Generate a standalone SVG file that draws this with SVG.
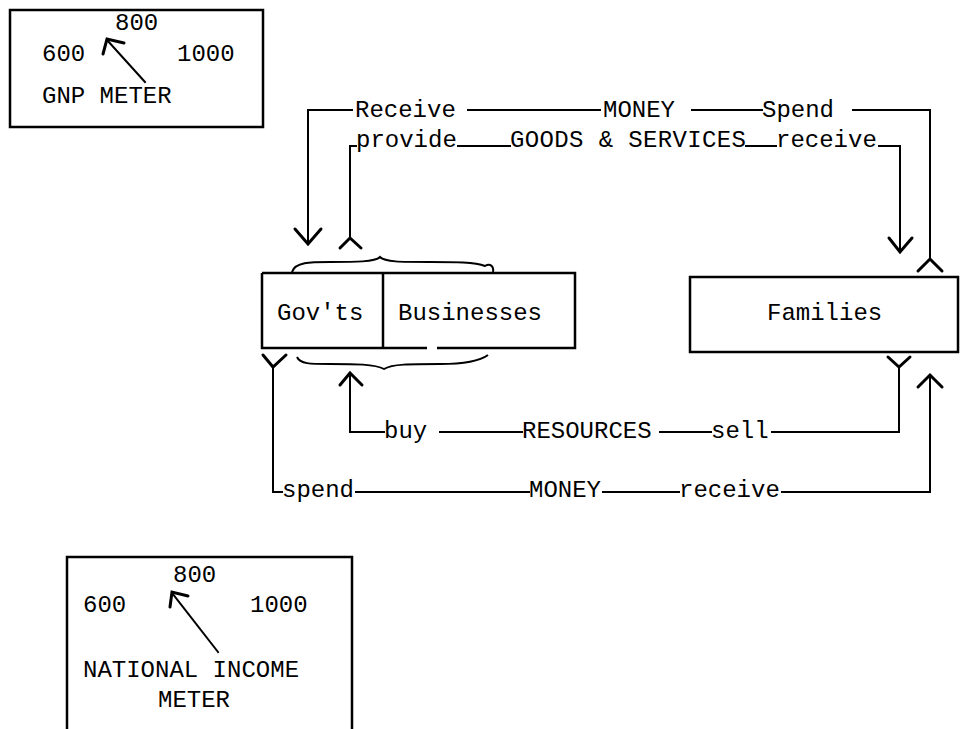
<svg xmlns="http://www.w3.org/2000/svg" width="961" height="729" viewBox="0 0 961 729">
<style>
text{font-family:"Liberation Mono","Courier New",monospace;font-size:24px;fill:#000}
.box{fill:none;stroke:#000;stroke-width:2.5}
.ln{fill:none;stroke:#000;stroke-width:2;stroke-linecap:square}
.ah{fill:none;stroke:#000;stroke-width:3;stroke-linejoin:miter;stroke-linecap:round}
.brace{fill:none;stroke:#000;stroke-width:2}
</style>
<rect width="961" height="729" fill="#fff"/>

<g id="gnp-meter">
<rect class="box" x="10" y="10" width="253" height="117"/>
<text x="115" y="30" font-size="23">800</text>
<text x="42" y="61" font-size="23">600</text>
<text x="177" y="61" font-size="23">1000</text>
<text x="42" y="103">GNP METER</text>
<line class="ln" x1="145" y1="82" x2="107" y2="40"/>
<polyline class="ah" points="103,54 107,39 124,43" stroke-width="3.5"/>
</g>

<g id="national-income-meter">
<path class="box" d="M67,729 V557 H352 V729"/>
<text x="173" y="582">800</text>
<text x="83" y="612">600</text>
<text x="250" y="612">1000</text>
<text x="83" y="677">NATIONAL INCOME</text>
<text x="158" y="707">METER</text>
<line class="ln" x1="218" y1="652" x2="172" y2="593"/>
<polyline class="ah" points="170,607 172,592 188,596" stroke-width="3.5"/>
</g>

<g id="node-govts-businesses">
<path class="box" d="M262,273 H575 V348 H437 M427,348 H262 V273"/>
<line class="box" x1="383" y1="273" x2="383" y2="348"/>
<text x="277" y="320">Gov'ts</text>
<text x="398" y="320">Businesses</text>
<path class="brace" d="M292,272 C295,262 310,262 330,262 C355,262 375,262 380,257 C385,262 400,262 430,262 C455,262 475,262 485,266 C490,263 494,266 493,272"/>
<path class="brace" d="M297,357 C300,364 310,364 330,364 C355,364 375,364 384,369 C392,364 410,364 440,364 C465,364 480,361 488,355"/>
</g>

<g id="node-families">
<rect class="box" x="690" y="277" width="268" height="75"/>
<text x="767" y="320">Families</text>
</g>

<g id="connectors">
<!-- top MONEY loop -->
<polyline class="ln" points="308,244 308,110 352,110"/>
<line class="ln" x1="468" y1="110" x2="600" y2="110"/>
<line class="ln" x1="692" y1="110" x2="762" y2="110"/>
<polyline class="ln" points="853,110 930,110 930,259"/>
<text x="355" y="117">Receive</text>
<text x="603" y="117">MONEY</text>
<text x="762" y="117">Spend</text>
<polyline class="ah" points="295,229 308,244 321,229"/>
<polyline class="ah" points="918,271 930,259 942,271"/>

<!-- GOODS & SERVICES loop -->
<polyline class="ln" points="350,238 350,146 356,146"/>
<line class="ln" x1="458" y1="146" x2="510" y2="146"/>
<line class="ln" x1="746" y1="146" x2="776" y2="146"/>
<polyline class="ln" points="879,146 900,146 900,252"/>
<text x="356" y="147">provide</text>
<text x="510" y="147" textLength="236">GOODS &amp; SERVICES</text>
<text x="776" y="147">receive</text>
<polyline class="ah" points="340,248 350,238 361,248"/>
<polyline class="ah" points="889,238 900,252 912,238"/>

<!-- RESOURCES loop -->
<polyline class="ln" points="350,374 350,432 384,432"/>
<line class="ln" x1="440" y1="432" x2="522" y2="432"/>
<line class="ln" x1="660" y1="432" x2="711" y2="432"/>
<polyline class="ln" points="772,432 899,432 899,367"/>
<text x="384" y="438">buy</text>
<text x="522" y="438">RESOURCES</text>
<text x="711" y="438">sell</text>
<polyline class="ah" points="340,385 350,373 362,385"/>
<polyline class="ah" points="888,357 899,367 910,357"/>

<!-- bottom MONEY loop -->
<polyline class="ln" points="273,367 273,492 282,492"/>
<line class="ln" x1="356" y1="492" x2="529" y2="492"/>
<line class="ln" x1="603" y1="492" x2="679" y2="492"/>
<polyline class="ln" points="782,492 930,492 930,375"/>
<text x="282" y="497">spend</text>
<text x="529" y="497">MONEY</text>
<text x="679" y="497">receive</text>
<polyline class="ah" points="263,355 273,367 286,355"/>
<polyline class="ah" points="918,387 930,375 942,387"/>
</g>
</svg>
